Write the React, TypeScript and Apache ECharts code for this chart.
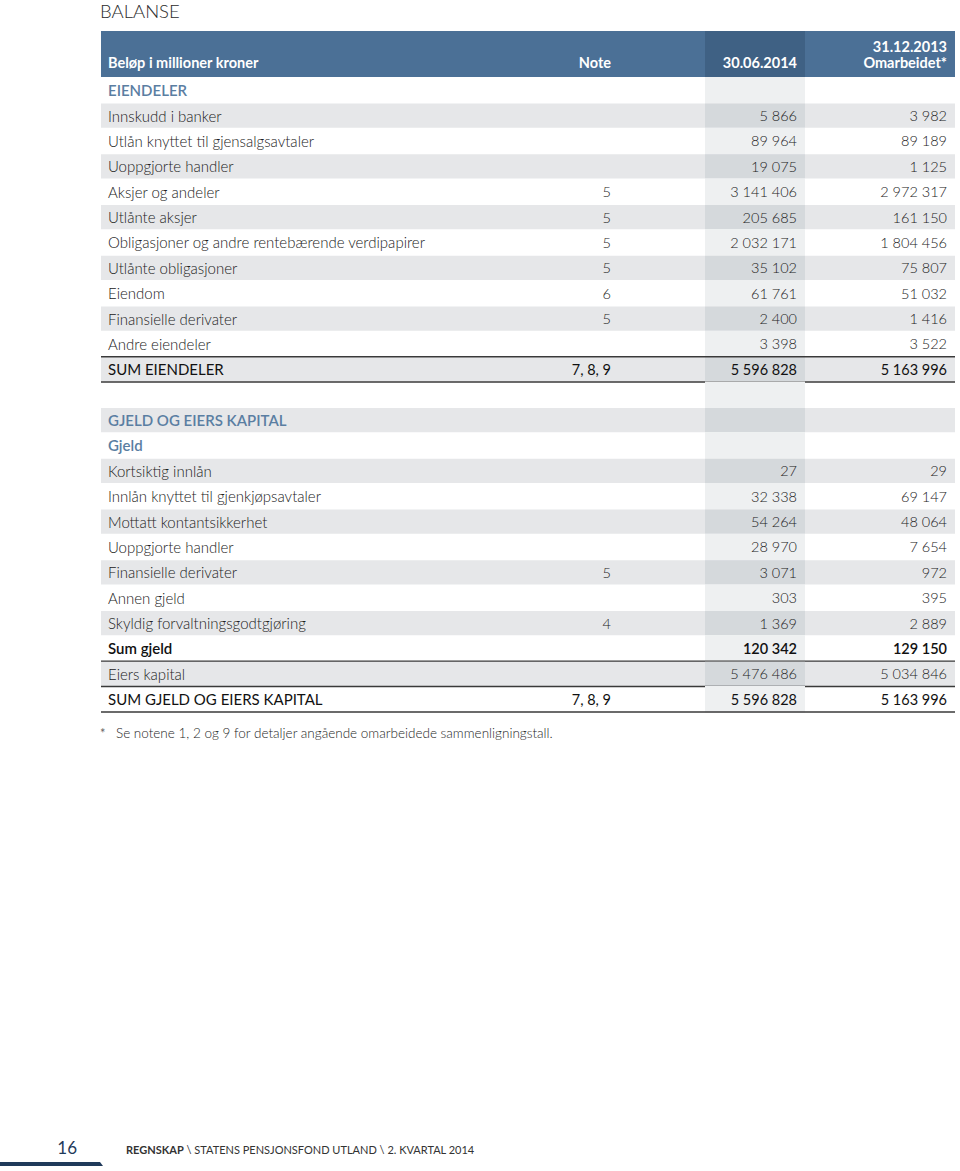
import React, { useEffect, useRef } from "react";
import * as echarts from "echarts";

const ROW_LABELS = [
  "EIENDELER",
  "Innskudd i banker",
  "Utlån knyttet til gjensalgsavtaler",
  "Uoppgjorte handler",
  "Aksjer og andeler",
  "Utlånte aksjer",
  "Obligasjoner og andre rentebærende verdipapirer",
  "Utlånte obligasjoner",
  "Eiendom",
  "Finansielle derivater",
  "Andre eiendeler",
  "SUM EIENDELER",
  "",
  "GJELD OG EIERS KAPITAL",
  "Gjeld",
  "Kortsiktig innlån",
  "Innlån knyttet til gjenkjøpsavtaler",
  "Mottatt kontantsikkerhet",
  "Uoppgjorte handler",
  "Finansielle derivater",
  "Annen gjeld",
  "Skyldig forvaltningsgodtgjøring",
  "Sum gjeld",
  "Eiers kapital",
  "SUM GJELD OG EIERS KAPITAL",
];

const ROW_KINDS = [
  "section", "item", "item", "item", "item", "item", "item", "item", "item", "item", "item", "total",
  "blank", "section", "section", "item", "item", "item", "item", "item", "item", "item", "subtotal", "item", "total",
];

const NOTES = [
  "", "", "", "", "5", "5", "5", "5", "6", "5", "", "7, 8, 9",
  "", "", "", "", "", "", "", "5", "", "4", "", "", "7, 8, 9",
];

const VALUES_2014: (number | null)[] = [
  null, 5866, 89964, 19075, 3141406, 205685, 2032171, 35102, 61761, 2400, 3398, 5596828,
  null, null, null, 27, 32338, 54264, 28970, 3071, 303, 1369, 120342, 5476486, 5596828,
];

const VALUES_2013: (number | null)[] = [
  null, 3982, 89189, 1125, 2972317, 161150, 1804456, 75807, 51032, 1416, 3522, 5163996,
  null, null, null, 29, 69147, 48064, 7654, 972, 395, 2889, 129150, 5034846, 5163996,
];

const RULE_ABOVE = [11];
const RULE_BELOW = [11, 22, 23, 24];

const HEADER_LABELS = ["Beløp i millioner kroner", "Note", "30.06.2014", "31.12.2013", "Omarbeidet*"];
const TITLE = "BALANSE";
const FOOTNOTE = "Se notene 1, 2 og 9 for detaljer angående omarbeidede sammenligningstall.";
const PAGE_NUMBER = "16";
const FOOTER_BOLD = "REGNSKAP";
const FOOTER_REST = " \\ STATENS PENSJONSFOND UTLAND \\ 2. KVARTAL 2014";

const FONT = "Lato, 'Noto Sans', sans-serif";
const TABLE_L = 101;
const TABLE_R = 955;
const HL_L = 705;
const HL_R = 805;
const X_LABEL = 108;
const X_NOTE = 611;
const X_V1 = 797;
const X_V2 = 947;

function fmt(v: number | null): string {
  if (v === null || v === undefined) return "";
  return String(v).replace(/\B(?=(\d{3})+(?!\d))/g, " ");
}

function txt(text: string, x: number, y: number, font: string, fill: string, align: string) {
  return {
    type: "text",
    style: {
      text,
      x,
      y,
      font,
      fill,
      align,
      verticalAlign: "middle",
      textAlign: align,
      textVerticalAlign: "middle",
    },
  };
}

export default function App() {
  const ref = useRef<HTMLDivElement>(null);

  useEffect(() => {
    if (!ref.current) return;
    const chart = echarts.init(ref.current, null, { renderer: "svg" });

    const rowData = ROW_LABELS.map((_, i) => [0, i]);

    const renderItem = (params: any, api: any) => {
      const i = api.value(1) as number;
      const cy = api.coord([0, i])[1];
      const h = api.size([0, 1])[1];
      const top = cy - h / 2;
      const xl = api.coord([TABLE_L, i])[0];
      const xr = api.coord([TABLE_R, i])[0];
      const hl = api.coord([HL_L, i])[0];
      const hr = api.coord([HL_R, i])[0];
      const kind = ROW_KINDS[i];
      const gray = i % 2 === 1;
      const children: any[] = [];
      if (gray) {
        children.push({
          type: "rect",
          shape: { x: xl, y: top + 0.5, width: xr - xl, height: h - 1 },
          style: { fill: "#e6e7e9" },
        });
      }
      children.push({
        type: "rect",
        shape: { x: hl, y: top + (gray ? 0.5 : -0.5), width: hr - hl, height: gray ? h - 1 : h + 1 },
        style: { fill: gray ? "#d5d9dc" : "#eef0f1" },
      });
      let weight = "300";
      let color = "#222222";
      if (kind === "section") {
        weight = "600";
        color = "#5a7ea2";
      } else if (kind === "total") {
        weight = "400";
        color = "#111111";
      } else if (kind === "subtotal") {
        weight = "600";
        color = "#111111";
      }
      const labelFont = `${weight} 15px ${FONT}`;
      const numFont = `${weight} 14.5px ${FONT}`;
      if (ROW_LABELS[i]) children.push(txt(ROW_LABELS[i], api.coord([X_LABEL, i])[0], cy, labelFont, color, "left"));
      if (NOTES[i]) children.push(txt(NOTES[i], api.coord([X_NOTE, i])[0], cy, numFont, color, "right"));
      const v1 = fmt(VALUES_2014[i]);
      const v2 = fmt(VALUES_2013[i]);
      if (v1) children.push(txt(v1, api.coord([X_V1, i])[0], cy, numFont, color, "right"));
      if (v2) children.push(txt(v2, api.coord([X_V2, i])[0], cy, numFont, color, "right"));
      if (RULE_ABOVE.includes(i)) {
        children.push({
          type: "line",
          shape: { x1: xl, y1: top, x2: xr, y2: top },
          style: { stroke: "#3a3a3a", lineWidth: 1.5 },
        });
      }
      if (RULE_BELOW.includes(i)) {
        children.push({
          type: "line",
          shape: { x1: xl, y1: top + h, x2: xr, y2: top + h },
          style: { stroke: "#3a3a3a", lineWidth: 1.5 },
        });
      }
      return { type: "group", children };
    };

    function txtG(text: string, x: number, y: number, align: string) {
      return {
        type: "text",
        style: {
          text,
          x,
          y,
          font: `700 14.5px ${FONT}`,
          fill: "#ffffff",
          align,
          textAlign: align,
          verticalAlign: "middle",
          textVerticalAlign: "middle",
        },
      };
    }

    chart.setOption({
      animation: false,
      grid: { left: 0, right: 0, top: 77.5, height: 634.4, containLabel: false },
      xAxis: { type: "value", min: 0, max: 960, show: false },
      yAxis: {
        type: "category",
        data: ROW_LABELS.map((_, i) => String(i)),
        inverse: true,
        show: false,
      },
      series: [
        {
          type: "custom",
          clip: false,
          silent: true,
          encode: { x: 0, y: 1 },
          data: rowData,
          renderItem,
        },
      ],
      graphic: [
        {
          type: "text",
          style: {
            text: TITLE,
            x: 100,
            y: 11,
            font: `300 18.5px ${FONT}`,
            fill: "#2b2b2b",
            verticalAlign: "middle",
            textVerticalAlign: "middle",
          },
        },
        {
          type: "rect",
          shape: { x: TABLE_L, y: 31, width: TABLE_R - TABLE_L, height: 46 },
          style: { fill: "#4b7096" },
        },
        {
          type: "rect",
          shape: { x: HL_L, y: 31, width: HL_R - HL_L, height: 46 },
          style: { fill: "#3f6184" },
        },
        txtG(HEADER_LABELS[0], X_LABEL, 62, "left"),
        txtG(HEADER_LABELS[1], X_NOTE, 62, "right"),
        txtG(HEADER_LABELS[2], X_V1, 62, "right"),
        txtG(HEADER_LABELS[3], X_V2, 46, "right"),
        txtG(HEADER_LABELS[4], X_V2, 62, "right"),
        {
          type: "text",
          style: {
            text: "*",
            x: 100,
            y: 733,
            font: `400 13px ${FONT}`,
            fill: "#666",
            verticalAlign: "middle",
            textVerticalAlign: "middle",
          },
        },
        {
          type: "text",
          style: {
            text: FOOTNOTE,
            x: 116,
            y: 733,
            font: `300 13.5px ${FONT}`,
            fill: "#1e1e1e",
            verticalAlign: "middle",
            textVerticalAlign: "middle",
          },
        },
        {
          type: "text",
          style: {
            text: PAGE_NUMBER,
            x: 77,
            y: 1147,
            font: `400 17px ${FONT}`,
            fill: "#1f3a5a",
            align: "right",
            textAlign: "right",
            verticalAlign: "middle",
            textVerticalAlign: "middle",
          },
        },
        {
          type: "polygon",
          shape: { points: [[0, 1162], [100, 1162], [103, 1166], [0, 1166]] },
          style: { fill: "#1f3a5a" },
        },
        {
          type: "text",
          style: {
            rich: {
              b: { font: `700 11px ${FONT}`, fill: "#333" },
              n: { font: `400 11px ${FONT}`, fill: "#333" },
            },
            text: `{b|${FOOTER_BOLD}}{n|${FOOTER_REST}}`,
            x: 126,
            y: 1149,
            verticalAlign: "middle",
            textVerticalAlign: "middle",
          },
        },
      ],
    });

    return () => chart.dispose();
  }, []);

  return (
    <div
      ref={ref}
      style={{ position: "absolute", left: 0, top: 0, width: 960, height: 1171 }}
    />
  );
}
